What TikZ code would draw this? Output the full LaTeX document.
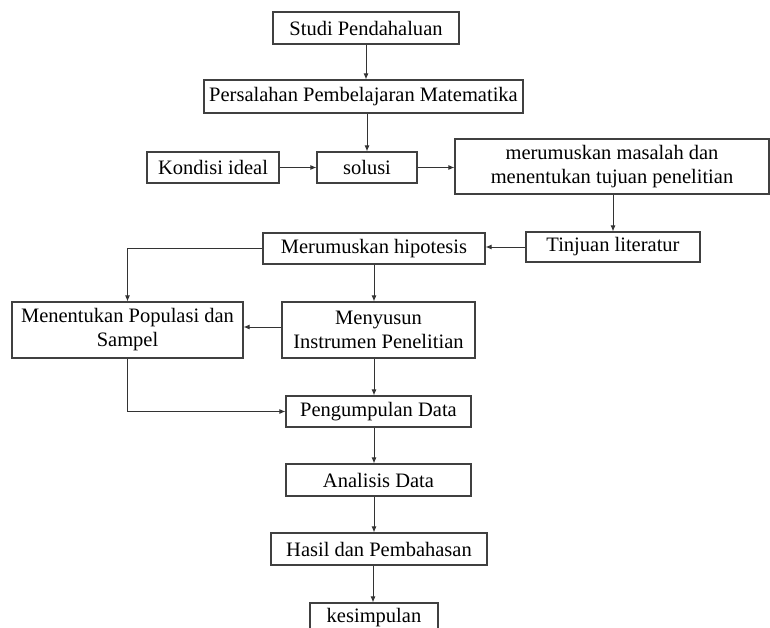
\documentclass[tikz,border=0pt]{standalone}
\usepackage{fontspec}
\setmainfont{Liberation Serif}
\usetikzlibrary{arrows.meta, positioning, calc}

\begin{document}
\begin{tikzpicture}[
  x=1pt, y=-1pt,
  % ---- styles ----
  box/.style = {
    rectangle, draw=black!75, line width=1.1pt,
    fill=white,
    font=\fontsize{20.5}{24}\selectfont,
    align=center,
    inner sep=2pt
  },
  flow/.style = {-{Latex[length=6pt, width=5pt]}, line width=1pt, black!80}
]
\path[use as bounding box, clip] (0,0) rectangle (770,628);
\fill[white] (0,0) rectangle (770,628);

% ============ BOXES ============

% --- top chain ---
\node[box, minimum width=186, minimum height=32] (studi) at (366, 28) {Studi Pendahaluan};
\node[box, minimum width=319, minimum height=33] (masalah) at (363.5, 96.5) {Persalahan Pembelajaran Matematika};

% --- solution row ---
\node[box, minimum width=132, minimum height=31] (kondisi) at (213, 167.5) {Kondisi ideal};
\node[box, minimum width=100, minimum height=31] (solusi) at (367, 167.5) {solusi};
\node[box, minimum width=314, minimum height=55] (rumusan) at (612, 166.5) {merumuskan masalah dan\\menentukan tujuan penelitian};

% --- literature & hypothesis ---
\node[box, minimum width=174, minimum height=30] (tinjauan) at (613, 247) {Tinjuan literatur};
\node[box, minimum width=222, minimum height=31] (hipotesis) at (374, 248.5) {Merumuskan hipotesis};

% --- population & instruments ---
\node[box, minimum width=231, minimum height=56] (populasi) at (127.5, 330) {Menentukan Populasi dan\\Sampel};
\node[box, minimum width=193, minimum height=56] (instrumen) at (378.5, 330) {Menyusun\\Instrumen Penelitian};

% --- data & results ---
\node[box, minimum width=185, minimum height=31] (pengumpulan) at (378.5, 411.5) {Pengumpulan Data};
\node[box, minimum width=185, minimum height=32] (analisis) at (378.5, 480) {Analisis Data};
\node[box, minimum width=216, minimum height=32] (hasil) at (379, 549) {Hasil dan Pembahasan};
\node[box, minimum width=128, minimum height=30] (kesimpulan) at (374, 618) {kesimpulan};

\coordinate (spine) at (374, 0);

% ============ CONNECTORS ============

% top chain
\draw[flow] (studi.south) -- (studi.south |- masalah.north);
\draw[flow] (solusi.north |- masalah.south) -- (solusi.north);

% solution row
\draw[flow] (kondisi.east) -- (solusi.west);
\draw[flow] (solusi.east) -- (solusi.east -| rumusan.west);
\draw[flow] (tinjauan.north |- rumusan.south) -- (tinjauan.north);
\draw[flow] (tinjauan.west) -- (tinjauan.west -| hipotesis.east);

% hypothesis branches
\draw[flow] (hipotesis.west) -| (populasi.north);
\draw[flow] (spine |- hipotesis.south) -- (spine |- instrumen.north);
\draw[flow] ([yshift=3]instrumen.west) -- ([yshift=3]instrumen.west -| populasi.east);

% data collection
\draw[flow] (populasi.south) |- (pengumpulan.west);
\draw[flow] (spine |- instrumen.south) -- (spine |- pengumpulan.north);
\draw[flow] (spine |- pengumpulan.south) -- (spine |- analisis.north);
\draw[flow] (spine |- analisis.south) -- (spine |- hasil.north);
\draw[flow] ([xshift=-1]spine |- hasil.south) -- ([xshift=-1]spine |- kesimpulan.north);

\end{tikzpicture}
\end{document}
